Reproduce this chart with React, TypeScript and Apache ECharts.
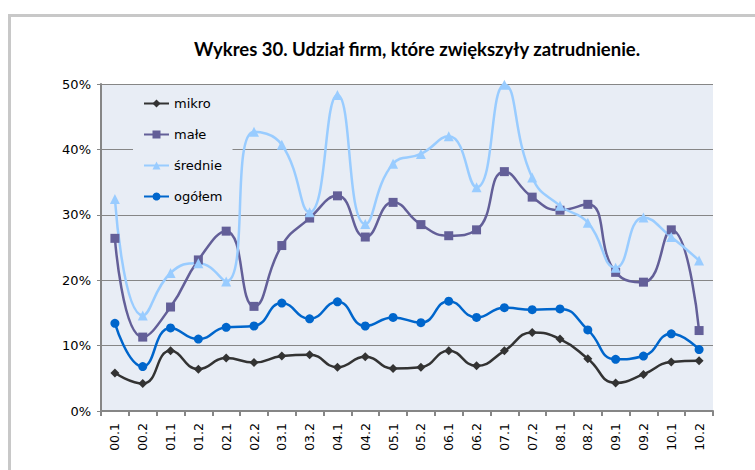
import React, { useEffect, useRef } from "react";
import * as echarts from "echarts";

const categories = ["00.1","00.2","01.1","01.2","02.1","02.2","03.1","03.2","04.1","04.2","05.1","05.2","06.1","06.2","07.1","07.2","08.1","08.2","09.1","09.2","10.1","10.2"];
const mikro = [5.8,4.2,9.2,6.4,8.1,7.4,8.4,8.6,6.7,8.3,6.5,6.7,9.2,6.9,9.2,12.0,11.0,8.0,4.3,5.6,7.5,7.7];
const male = [26.4,11.3,15.9,23.1,27.5,16.0,25.3,29.5,32.9,26.6,31.9,28.5,26.8,27.7,36.6,32.7,30.7,31.6,21.2,19.7,27.7,12.3];
const srednie = [32.4,14.6,21.1,22.6,19.8,42.7,40.7,30.4,48.3,28.6,37.8,39.3,42.0,34.2,49.9,35.7,31.4,28.8,21.9,29.6,26.6,23.0];
const ogolem = [13.4,6.8,12.7,11.0,12.8,13.0,16.5,14.1,16.7,13.0,14.3,13.5,16.8,14.3,15.8,15.5,15.6,12.4,7.9,8.4,11.8,9.4];
const yTicks = [0, 10, 20, 30, 40, 50];

const TITLE_FONT = "Lato";
const FONT = "DejaVu Sans";
const BG = "#E8EDF5";

export default function App() {
  const ref = useRef<HTMLDivElement>(null);
  useEffect(() => {
    document.body.style.margin = "0";
    const chart = echarts.init(ref.current!, undefined, { renderer: "svg" });
    const mk = (name: string, data: number[], color: string, symbol: string, size: number) => ({
      name,
      type: "line",
      data,
      smooth: 0.5,
      symbol,
      symbolSize: size,
      lineStyle: { color, width: 2.5 },
      itemStyle: { color },
    });
    chart.setOption({
      animation: false,
      title: {
        text: "Wykres 30. Udział firm, które zwiększyły zatrudnienie.",
        left: 412,
        textAlign: "center",
        top: 34,
        textStyle: { fontFamily: TITLE_FONT, fontSize: 18.5, fontWeight: "bold", color: "#000" },
      },
      graphic: [
        {
          type: "rect",
          shape: { x: 9.5, y: 15.5, width: 800, height: 520 },
          style: { fill: "none", stroke: "#C8C8C8", lineWidth: 3 },
          z: -10,
        },
      ],
      grid: { left: 101, right: 42, top: 84, bottom: 59, show: true, backgroundColor: BG, borderWidth: 0 },
      legend: {
        orient: "vertical",
        left: 133,
        top: 90,
        padding: [7, 10, 7, 10],
        itemGap: 18,
        itemWidth: 25,
        itemHeight: 10,
        backgroundColor: BG,
        textStyle: { fontFamily: FONT, fontSize: 13, color: "#000" },
        data: ["mikro", "małe", "średnie", "ogółem"],
      },
      xAxis: {
        type: "category",
        data: categories,
        boundaryGap: true,
        axisLine: { lineStyle: { color: "#868686", width: 2 } },
        axisTick: { show: true, interval: 0, length: 5, lineStyle: { color: "#868686", width: 2 } },
        axisLabel: { interval: 0, rotate: 90, fontFamily: FONT, fontSize: 12.5, color: "#000", margin: 12 },
      },
      yAxis: {
        type: "value",
        min: yTicks[0],
        max: yTicks[yTicks.length - 1],
        interval: 10,
        axisLine: { show: true, lineStyle: { color: "#868686", width: 2 } },
        axisTick: { show: true, length: 4, lineStyle: { color: "#868686" } },
        axisLabel: { formatter: "{value}%", fontFamily: FONT, fontSize: 13, color: "#000", margin: 10 },
        splitLine: { lineStyle: { color: "#868686", width: 1 } },
      },
      series: [
        mk("mikro", mikro, "#333333", "diamond", 9),
        mk("małe", male, "#635F98", "rect", 9),
        mk("średnie", srednie, "#99CCFF", "triangle", 10),
        mk("ogółem", ogolem, "#0066CC", "circle", 9),
      ],
    });
    return () => chart.dispose();
  }, []);
  return <div ref={ref} style={{ width: 755, height: 470 }} />;
}
